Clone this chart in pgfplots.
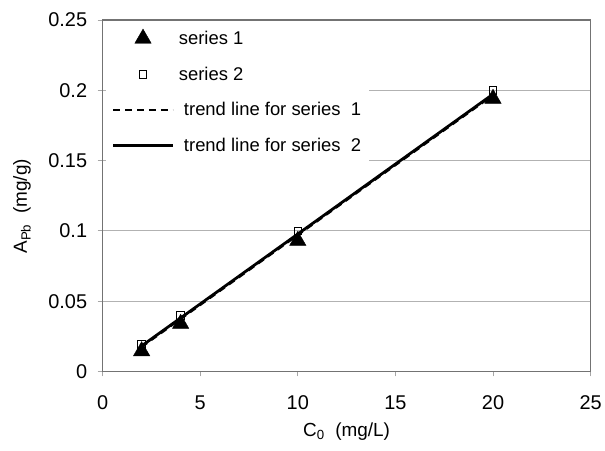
\documentclass[border=0pt]{standalone}
\usepackage{fontspec}
\setmainfont{Liberation Sans}
\usepackage{pgfplots}
\pgfplotsset{compat=1.18}

\pgfplotsset{
  mymarkleg/.style={legend image code/.code={\path[draw=none,fill=none] (0pt,0pt) -- (64pt,0pt); \draw[#1] plot coordinates {(30pt,0pt)};}},
  mylineleg/.style={legend image code/.code={\path[draw=none,fill=none] (0pt,0pt) -- (64pt,0pt); \draw[#1] (0pt,0pt) -- (60pt,0pt);}},
}

\begin{document}
\begin{tikzpicture}
\begin{axis}[
  scale only axis,
  width=490pt, height=353pt,
  xmin=0, xmax=25, ymin=0, ymax=0.25,
  xtick={0,5,10,15,20,25},
  ytick={0,0.05,0.1,0.15,0.2,0.25},
  xtick pos=lower, ytick pos=left,
  tick align=outside,
  major tick length=5pt,
  tick style={black!35, line width=0.8pt},
  axis line style={black!55, line width=1.2pt},
  ymajorgrids,
  grid style={black!30, line width=0.8pt},
  /pgf/number format/assume math mode=true,
  /pgf/number format/fixed,
  /pgf/number format/precision=2,
  ticklabel style={font=\fontsize{20}{24}\selectfont},
  xticklabel style={yshift=-16pt},
  yticklabel style={xshift=-7pt},
  xlabel={C\textsubscript{0}\ \ (mg/L)},
  ylabel={A\textsubscript{Pb}\ \ (mg/g)},
  label style={font=\fontsize{19}{23}\selectfont},
  xlabel style={at={(axis description cs:0.5,-0.135)}, anchor=north},
  ylabel style={at={(axis description cs:-0.165,0.47)}, anchor=center},
  legend cell align=left,
  legend style={at={(axis description cs:0,1)}, anchor=north west,
    xshift=3pt, yshift=-3pt, draw=none, fill=white,
    font=\fontsize{18.5}{22}\selectfont, row sep=17pt,
    inner xsep=6pt, inner ysep=6pt},
]
\coordinate (ll) at (rel axis cs:0,0);
\coordinate (ur) at (rel axis cs:1,1);

\addplot[only marks, mark=triangle*, mark size=9.5pt, black, mymarkleg]
  coordinates {(2,0.0145) (4,0.0340) (10,0.0930) (20,0.1940)};
\addlegendentry{series 1}

\addplot[only marks, mark=square, mark size=3.8pt, black, line width=1pt, mark options={fill=white}, mymarkleg]
  coordinates {(2,0.0190) (4,0.0400) (10,0.1000) (20,0.2000)};
\addlegendentry{series 2}

\addplot[black, dashed, dash pattern=on 7pt off 5pt, line width=1.6pt, mylineleg]
  coordinates {(2,0.0172) (20,0.1962)};
\addlegendentry{\ trend line for series\ \ 1}

\addplot[black, line width=2.8pt, mylineleg]
  coordinates {(2,0.0182) (20,0.1972)};
\addlegendentry{\ trend line for series\ \ 2}
\end{axis}
\path ([shift={(-103pt,-79pt)}]ll) rectangle ([shift={(12pt,20pt)}]ur);
\end{tikzpicture}
\end{document}
